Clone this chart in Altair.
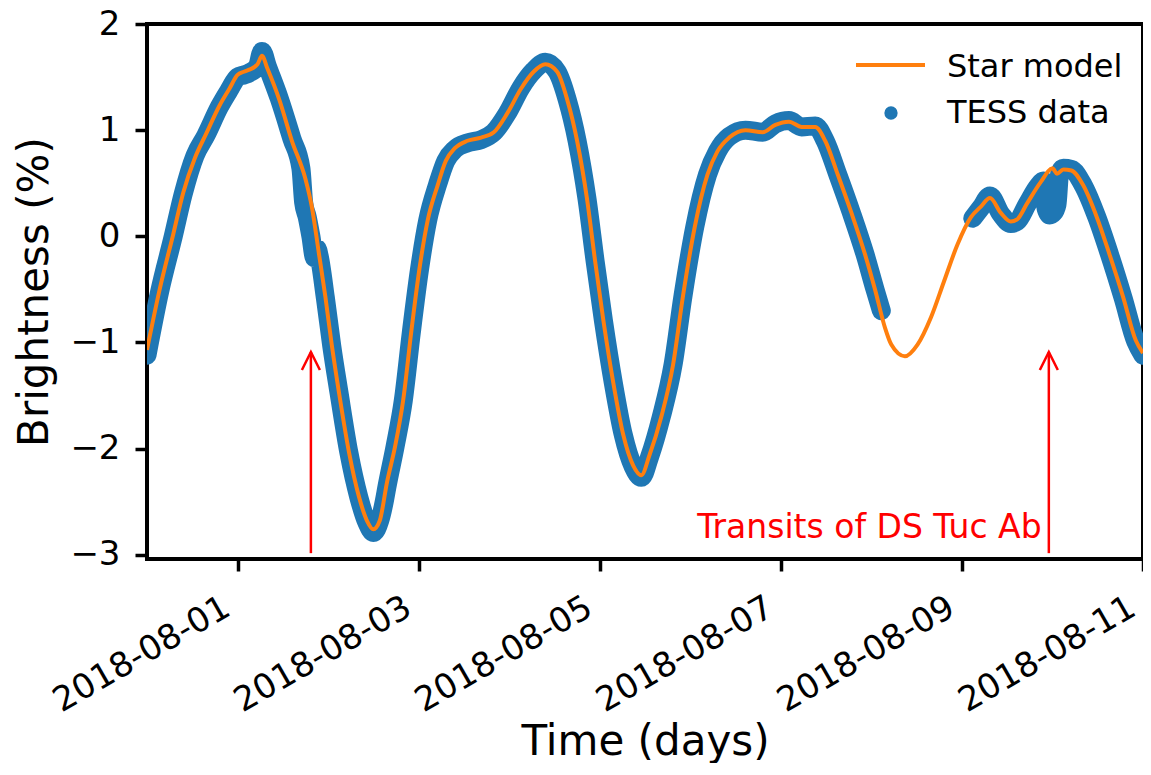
import altair as alt
import pandas as pd

# ---- Star model (days since 2018-07-31 00:00, brightness %) ----
model_day = [0.00, 0.14, 0.29, 0.40, 0.53, 0.65, 0.80, 0.91, 1.00, 1.07, 1.13, 1.22, 1.27, 1.33,
             1.46, 1.60, 1.75, 1.82, 1.90, 1.97, 2.04, 2.12, 2.23, 2.34, 2.43, 2.50, 2.57, 2.65,
             2.74, 2.83, 2.92, 3.01, 3.10, 3.21, 3.30, 3.40, 3.54, 3.69, 3.83, 3.98, 4.13, 4.27,
             4.40, 4.53, 4.64, 4.75, 4.86, 4.95, 5.04, 5.15, 5.26, 5.37, 5.46, 5.55, 5.68, 5.81,
             5.92, 6.05, 6.19, 6.30, 6.43, 6.61, 6.80, 6.94, 7.09, 7.23, 7.38, 7.49, 7.63, 7.78,
             7.93, 8.04, 8.15, 8.22, 8.37, 8.51, 8.66, 8.80, 8.95, 9.10, 9.21, 9.31, 9.43, 9.54,
             9.61, 9.72, 9.87, 10.00, 10.05, 10.12, 10.21, 10.34, 10.49, 10.63, 10.78, 10.92, 11.00]
model_value = [-1.07, -0.50, 0.02, 0.41, 0.74, 0.96, 1.23, 1.39, 1.52, 1.55, 1.57, 1.62, 1.70, 1.58,
               1.29, 0.90, 0.54, 0.28, -0.17, -0.57, -1.02, -1.47, -2.03, -2.45, -2.68, -2.76, -2.68, -2.32,
               -1.98, -1.54, -0.89, -0.30, 0.15, 0.48, 0.71, 0.83, 0.90, 0.93, 0.98, 1.16, 1.39, 1.55,
               1.62, 1.55, 1.29, 0.90, 0.35, -0.24, -0.79, -1.38, -1.87, -2.16, -2.25, -2.06, -1.70, -1.21,
               -0.56, 0.09, 0.58, 0.80, 0.93, 1.00, 0.98, 1.05, 1.08, 1.03, 1.03, 0.90, 0.58, 0.22,
               -0.17, -0.50, -0.86, -1.02, -1.13, -1.02, -0.76, -0.43, -0.08, 0.18, 0.28, 0.36, 0.22, 0.14,
               0.16, 0.31, 0.51, 0.64, 0.59, 0.63, 0.62, 0.48, 0.18, -0.17, -0.57, -0.98, -1.10]

# ---- TESS data (two observed stretches, gap in between) ----
tess_day_1 = [0.00, 0.14, 0.29, 0.40, 0.53, 0.65, 0.80, 0.91, 1.00, 1.07, 1.13, 1.22, 1.27, 1.33,
              1.46, 1.60, 1.70, 1.73, 1.77, 1.81, 1.85, 1.88, 1.90, 1.97, 2.04, 2.12, 2.23, 2.34,
              2.43, 2.50, 2.57, 2.62, 2.65, 2.74, 2.83, 2.92, 3.01, 3.10, 3.21, 3.30, 3.40, 3.54,
              3.69, 3.83, 3.98, 4.13, 4.27, 4.40, 4.53, 4.64, 4.75, 4.86, 4.95, 5.04, 5.15, 5.26,
              5.37, 5.46, 5.55, 5.68, 5.81, 5.92, 6.05, 6.19, 6.30, 6.43, 6.61, 6.80, 6.94, 7.09,
              7.23, 7.38, 7.49, 7.63, 7.78, 7.93, 8.04, 8.11]
tess_value_1 = [-1.12, -0.52, 0.00, 0.40, 0.76, 0.95, 1.22, 1.38, 1.50, 1.52, 1.54, 1.60, 1.74, 1.60,
                1.30, 0.92, 0.64, 0.32, 0.18, 0.00, -0.20, -0.12, -0.18, -0.58, -1.03, -1.47, -2.04, -2.46,
                -2.70, -2.79, -2.68, -2.50, -2.36, -1.98, -1.55, -0.90, -0.31, 0.15, 0.49, 0.71, 0.82, 0.88,
                0.91, 0.98, 1.16, 1.40, 1.56, 1.64, 1.55, 1.29, 0.90, 0.35, -0.24, -0.79, -1.38, -1.87,
                -2.17, -2.27, -2.08, -1.70, -1.21, -0.56, 0.09, 0.58, 0.80, 0.94, 1.00, 0.98, 1.06, 1.09,
                1.03, 1.04, 0.90, 0.58, 0.22, -0.17, -0.50, -0.70]
tess_day_2 = [9.12, 9.21, 9.31, 9.43, 9.54, 9.61, 9.72, 9.84, 9.90, 9.93, 9.97, 10.01, 10.05, 10.08,
              10.12, 10.21, 10.34, 10.49, 10.63, 10.78, 10.92, 11.00]
tess_value_2 = [0.17, 0.27, 0.38, 0.21, 0.12, 0.14, 0.30, 0.47, 0.52, 0.26, 0.20, 0.22, 0.30, 0.60,
                0.64, 0.63, 0.48, 0.18, -0.17, -0.58, -0.99, -1.12]

# ---- axes / annotations ----
x_tick_dates = [1, 3, 5, 7, 9, 11]          # days of August 2018
y_ticks = [-3, -2, -1, 0, 1, 2]
arrow_day = [1.81, 9.96]
arrow_base = -2.985
arrow_tip = -1.09
note_day = [9.88]
note_value = [-2.84]
note_text = ["Transits of DS Tuc Ab"]
legend_labels = ["Star model", "TESS data"]

BLUE = "#1f77b4"
ORANGE = "#ff7f0e"
RED = "#ff0000"
FONT = "DejaVu Sans"

T0 = pd.Timestamp("2018-07-31")


def to_time(days):
    return [T0 + pd.Timedelta(days=d) for d in days]


model_df = pd.DataFrame({"time": to_time(model_day), "brightness": model_value})
tess_df = pd.DataFrame({
    "time": to_time(tess_day_1) + to_time(tess_day_2),
    "brightness": tess_value_1 + tess_value_2,
    "segment": ["first"] * len(tess_day_1) + ["second"] * len(tess_day_2),
})
arrow_df = pd.DataFrame({
    "time": to_time(arrow_day),
    "brightness": [arrow_base] * len(arrow_day),
    "tip": [arrow_tip] * len(arrow_day),
})
head_df = pd.DataFrame({"time": to_time(arrow_day), "brightness": [arrow_tip] * len(arrow_day)})
note_df = pd.DataFrame({"time": to_time(note_day), "brightness": note_value, "label": note_text})
one_row = pd.DataFrame({"k": [0]})

x_enc = alt.X(
    "time:T",
    title="Time (days)",
    scale=alt.Scale(domain=[alt.DateTime(year=2018, month=7, date=31),
                            alt.DateTime(year=2018, month=8, date=11)]),
    axis=alt.Axis(
        values=[alt.DateTime(year=2018, month=8, date=d) for d in x_tick_dates],
        format="%Y-%m-%d",
        labelAngle=330,
        labelAlign="right",
        labelBaseline="top",
        labelPadding=19,
        labelOffset=-19,
        labelOverlap=False,
        labelFlush=False,
        labelLimit=0,
        titleY=195,
        titleBaseline="alphabetic",
    ),
)
y_enc = alt.Y(
    "brightness:Q",
    title="Brightness (%)",
    scale=alt.Scale(domain=[-3.04, 2.0], nice=False, zero=False),
    axis=alt.Axis(
        values=y_ticks,
        format="d",
        labelExpr="replace(datum.label, '-', '\u2212')",
        labelPadding=15,
        labelFlush=False,
        titleX=-100,
        titleBaseline="alphabetic",
    ),
)

tess = alt.Chart(tess_df).mark_line(
    color=BLUE, strokeWidth=19, strokeCap="round", strokeJoin="round",
    interpolate="monotone", clip=True
).encode(x=x_enc, y=y_enc, detail="segment:N")

model = alt.Chart(model_df).mark_line(
    color=ORANGE, strokeWidth=4, interpolate="monotone", clip=True
).encode(x=x_enc, y=y_enc)

shafts = alt.Chart(arrow_df).mark_rule(color=RED, strokeWidth=2.5).encode(
    x=x_enc, y=y_enc, y2="tip:Q"
)
heads = alt.Chart(head_df).mark_point(
    shape="M-1,2L0,0L1,2", filled=False, stroke=RED, strokeWidth=2.5, size=324, opacity=1
).encode(x=x_enc, y=y_enc)

note = alt.Chart(note_df).mark_text(
    align="right", baseline="alphabetic", font=FONT, fontSize=33, color=RED
).encode(x=x_enc, y=y_enc, text="label:N")

# ---- legend (drawn in plot pixel space) ----
leg_line = alt.Chart(one_row).mark_rule(color=ORANGE, strokeWidth=4).encode(
    x=alt.value(709), x2=alt.value(778), y=alt.value(41)
)
leg_dot = alt.Chart(one_row).mark_circle(color=BLUE, size=177, opacity=1).encode(
    x=alt.value(744), y=alt.value(89)
)
leg_text1 = alt.Chart(one_row).mark_text(
    align="left", baseline="alphabetic", font=FONT, fontSize=32, color="black"
).encode(x=alt.value(800), y=alt.value(53), text=alt.value(legend_labels[0]))
leg_text2 = alt.Chart(one_row).mark_text(
    align="left", baseline="alphabetic", font=FONT, fontSize=32, color="black"
).encode(x=alt.value(800), y=alt.value(99), text=alt.value(legend_labels[1]))

chart = alt.layer(
    tess, model, shafts, heads, note, leg_line, leg_dot, leg_text1, leg_text2
).properties(
    width=996,
    height=535,
    padding={"left": 139, "top": 16, "right": 0, "bottom": 204},
    autosize=alt.AutoSizeParams(type="none"),
    background="white",
).configure_view(
    stroke="black", strokeWidth=4
).configure_axis(
    domain=False,
    grid=False,
    tickColor="black",
    tickWidth=3.5,
    tickSize=12,
    labelColor="black",
    labelFont=FONT,
    labelFontSize=34,
    titleFont=FONT,
    titleFontSize=42,
    titleFontWeight="normal",
    titleColor="black",
)

chart.save("out.html", embed_options={"renderer": "svg", "actions": False})
